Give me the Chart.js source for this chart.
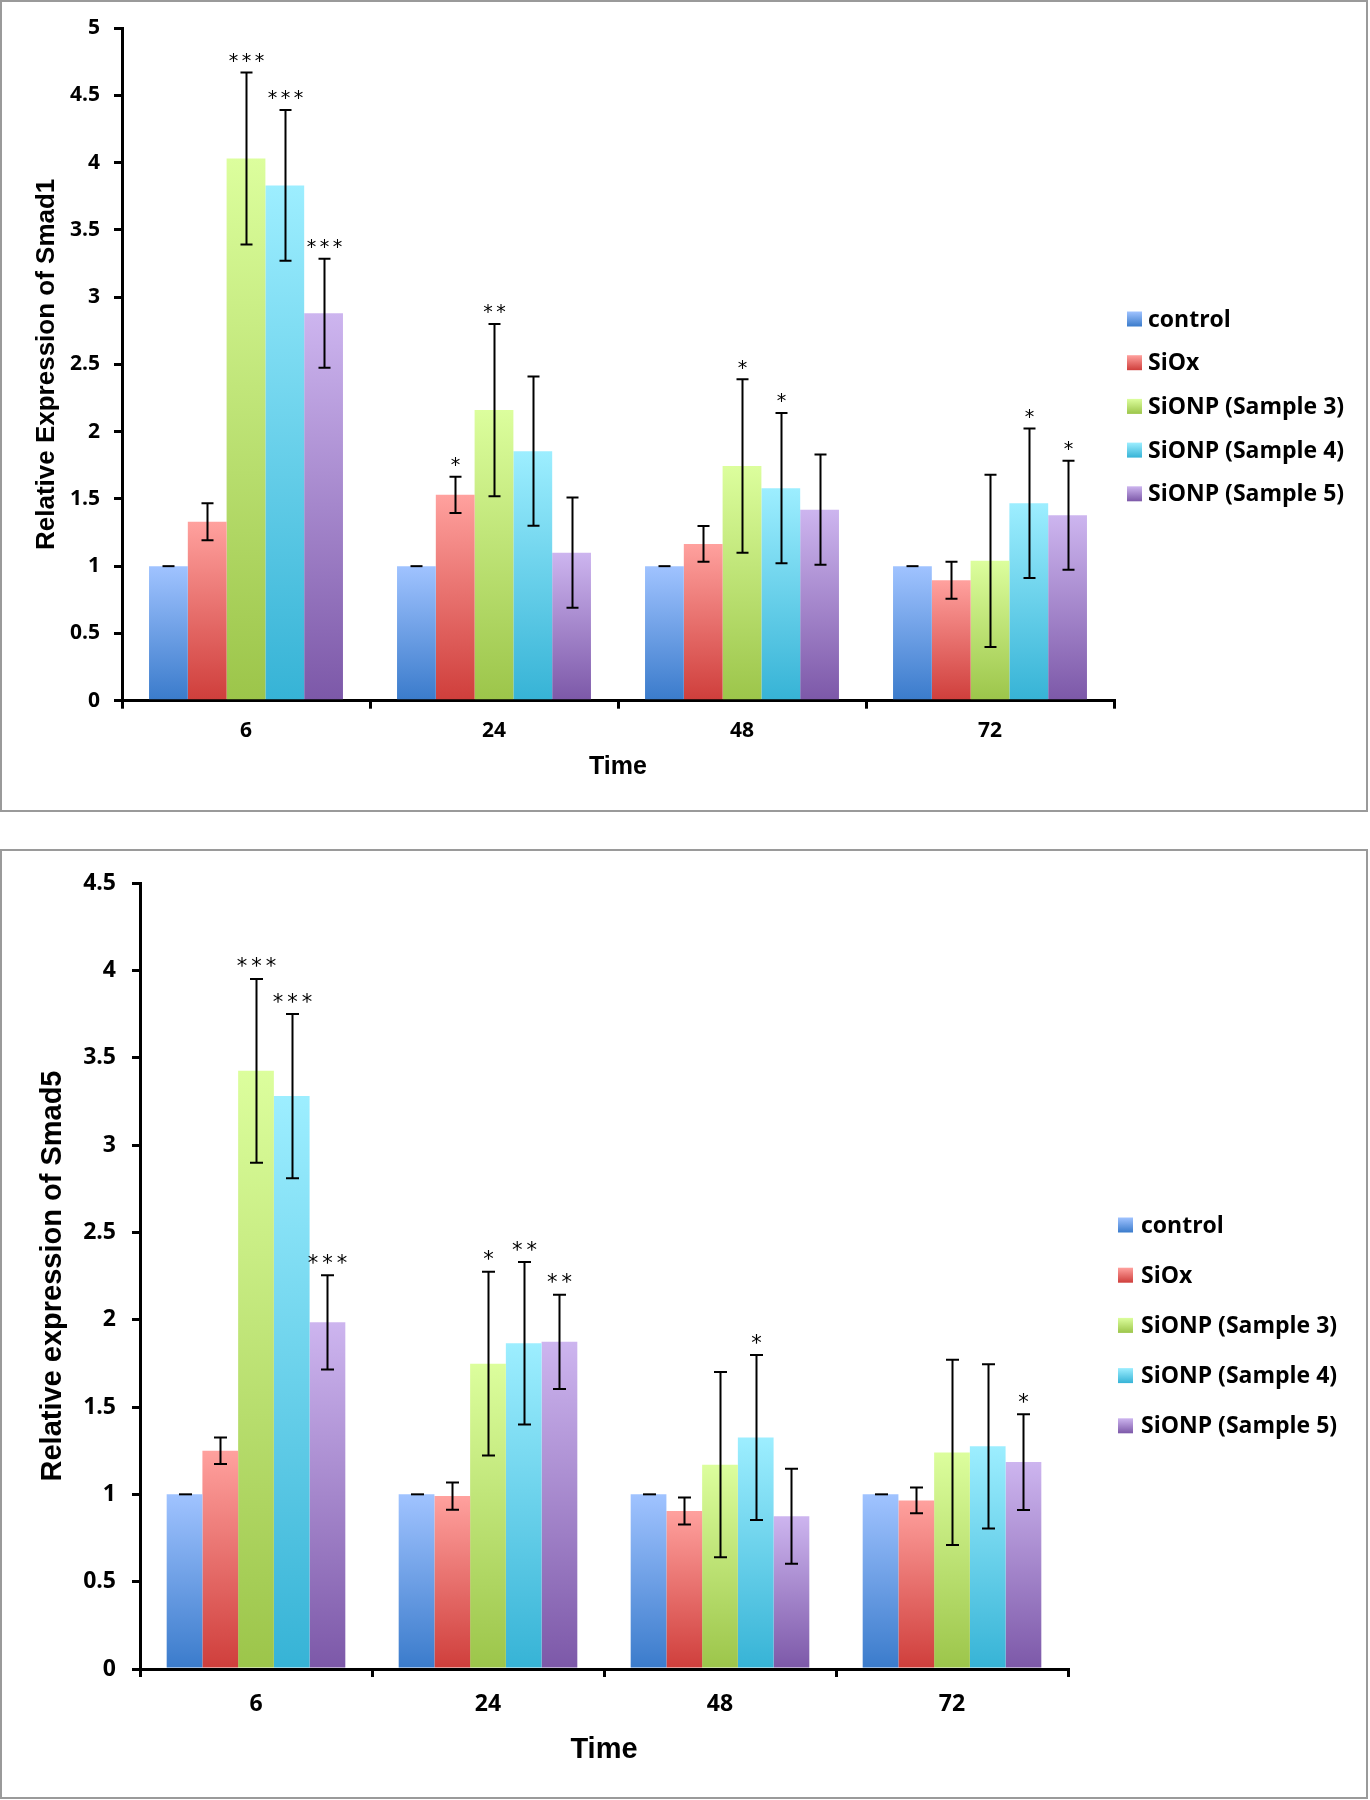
<!DOCTYPE html>
<html><head><meta charset="utf-8">
<script src="https://cdn.jsdelivr.net/npm/chart.js@4.4.1/dist/chart.umd.min.js"></script>
<style>
html,body{margin:0;padding:0;background:#fff;}
body{width:1370px;height:1800px;position:relative;overflow:hidden;}
.wrap{position:absolute;left:0;width:1370px;}
.frame{position:absolute;left:0;width:1368px;box-sizing:border-box;border:2px solid #9a9a9a;pointer-events:none;}
</style></head><body>
<div class="wrap" style="top:0;height:812px;"><canvas id="c1"></canvas></div>
<div class="frame" style="top:0;height:812px;"></div>
<div class="wrap" style="top:849px;height:950px;"><canvas id="c2"></canvas></div>
<div class="frame" style="top:849px;height:950px;"></div>
<script>
// ---------- data ----------
const timeCategories = ['6', '24', '48', '72'];
const seriesNames = ['control', 'SiOx', 'SiONP (Sample 3)', 'SiONP (Sample 4)', 'SiONP (Sample 5)'];

// Smad1 (top chart)
const smad1Control = [1.00, 1.00, 1.00, 1.00];
const smad1SiOx    = [1.33, 1.53, 1.165, 0.895];
const smad1S3      = [4.03, 2.16, 1.745, 1.04];
const smad1S4      = [3.83, 1.855, 1.58, 1.468];
const smad1S5      = [2.88, 1.10, 1.42, 1.378];
const smad1ErrControl = [0, 0, 0, 0];
const smad1ErrSiOx    = [0.137, 0.135, 0.133, 0.137];
const smad1ErrS3      = [0.64, 0.64, 0.645, 0.64];
const smad1ErrS4      = [0.56, 0.555, 0.558, 0.556];
const smad1ErrS5      = [0.405, 0.41, 0.41, 0.405];
const smad1StarsControl = ['', '', '', ''];
const smad1StarsSiOx    = ['', '*', '', ''];
const smad1StarsS3      = ['***', '**', '*', ''];
const smad1StarsS4      = ['***', '', '*', '*'];
const smad1StarsS5      = ['***', '', '', '*'];
const smad1TickValues = [0, 0.5, 1, 1.5, 2, 2.5, 3, 3.5, 4, 4.5, 5];
const smad1TickLabels = ['0', '0.5', '1', '1.5', '2', '2.5', '3', '3.5', '4', '4.5', '5'];

// Smad5 (bottom chart)
const smad5Control = [1.00, 1.00, 1.00, 1.00];
const smad5SiOx    = [1.25, 0.99, 0.905, 0.965];
const smad5S3      = [3.425, 1.748, 1.17, 1.24];
const smad5S4      = [3.28, 1.865, 1.325, 1.275];
const smad5S5      = [1.985, 1.873, 0.875, 1.185];
const smad5ErrControl = [0, 0, 0, 0];
const smad5ErrSiOx    = [0.076, 0.078, 0.077, 0.074];
const smad5ErrS3      = [0.526, 0.526, 0.53, 0.53];
const smad5ErrS4      = [0.47, 0.465, 0.472, 0.47];
const smad5ErrS5      = [0.27, 0.27, 0.272, 0.274];
const smad5StarsControl = ['', '', '', ''];
const smad5StarsSiOx    = ['', '', '', ''];
const smad5StarsS3      = ['***', '*', '', ''];
const smad5StarsS4      = ['***', '**', '*', ''];
const smad5StarsS5      = ['***', '**', '', '*'];
const smad5TickValues = [0, 0.5, 1, 1.5, 2, 2.5, 3, 3.5, 4, 4.5];
const smad5TickLabels = ['0', '0.5', '1', '1.5', '2', '2.5', '3', '3.5', '4', '4.5'];

// ---------- styles ----------
const lightColors = ['#A0C3FF', '#FFA19E', '#DCFE9D', '#9DEEFF', '#CDB5EF'];
const darkColors  = ['#3A7BCB', '#CF3E3B', '#9CC54A', '#36B3D6', '#7C58A8'];

function gradFill(i) {
  return (c) => {
    const chart = c.chart;
    if (!chart.chartArea || c.type !== 'data') return darkColors[i];
    const y = chart.scales.y;
    const top = y.getPixelForValue(c.raw);
    const base = y.getPixelForValue(0);
    if (!isFinite(top) || !isFinite(base) || top === base) return darkColors[i];
    const g = chart.ctx.createLinearGradient(0, top, 0, base);
    g.addColorStop(0, lightColors[i]);
    g.addColorStop(1, darkColors[i]);
    return g;
  };
}

const errorBarPlugin = {
  id: 'errorBars',
  afterDatasetsDraw(chart, args, o) {
    const ctx = chart.ctx, y = chart.scales.y;
    ctx.save();
    ctx.strokeStyle = '#000';
    ctx.lineWidth = o.lineWidth;
    chart.data.datasets.forEach((ds, i) => {
      const meta = chart.getDatasetMeta(i);
      meta.data.forEach((bar, j) => {
        const v = ds.data[j], e = ds.errors[j];
        const x = Math.round(bar.x) + 0.5;
        const yHi = y.getPixelForValue(v + e), yLo = y.getPixelForValue(v - e);
        ctx.beginPath();
        if (e > 0) { ctx.moveTo(x, yHi); ctx.lineTo(x, yLo); }
        ctx.moveTo(x - o.cap, yHi); ctx.lineTo(x + o.cap, yHi);
        if (e > 0) { ctx.moveTo(x - o.cap, yLo); ctx.lineTo(x + o.cap, yLo); }
        ctx.stroke();
        const s = ds.stars[j];
        if (s) {
          ctx.fillStyle = '#000';
          ctx.font = o.starSize + 'px "DejaVu Sans"';
          ctx.textAlign = 'center';
          ctx.textBaseline = 'alphabetic';
          const cy = yHi - o.starGap;
          const n = s.length;
          for (let k = 0; k < n; k++) {
            const sx = x + (k - (n - 1) / 2) * o.starSpacing;
            ctx.fillText('*', sx, cy + 0.6 * o.starSize);
          }
        }
      });
    });
    ctx.restore();
  }
};

const sideLegendPlugin = {
  id: 'sideLegend',
  afterDraw(chart, args, o) {
    const ctx = chart.ctx;
    ctx.save();
    chart.data.datasets.forEach((ds, i) => {
      const cy = o.y0 + i * o.dy;
      const top = cy - o.box / 2;
      const g = ctx.createLinearGradient(0, top, 0, top + o.box);
      g.addColorStop(0, lightColors[i]);
      g.addColorStop(1, darkColors[i]);
      ctx.fillStyle = g;
      ctx.fillRect(o.x, top, o.box, o.box);
      ctx.fillStyle = '#000';
      ctx.font = 'bold ' + o.fontSize + 'px "Open Sans"';
      ctx.textAlign = 'left';
      ctx.textBaseline = 'middle';
      ctx.fillText(ds.label, o.textX, cy + 1);
    });
    ctx.restore();
  }
};

function makeChart(id, p) {
  const datasets = p.values.map((vals, i) => ({
    label: seriesNames[i],
    data: vals,
    errors: p.errors[i],
    stars: p.stars[i],
    backgroundColor: gradFill(i),
    borderWidth: 0,
    categoryPercentage: p.catPct,
    barPercentage: 1.0
  }));
  return new Chart(document.getElementById(id), {
    type: 'bar',
    data: { labels: timeCategories, datasets },
    plugins: [errorBarPlugin, sideLegendPlugin],
    options: {
      responsive: true,
      maintainAspectRatio: false,
      animation: false,
      devicePixelRatio: 1,
      layout: { padding: { left: 0, top: p.padTop, right: p.padRight, bottom: 0 } },
      plugins: {
        legend: { display: false },
        tooltip: { enabled: false },
        errorBars: p.err,
        sideLegend: p.legend
      },
      scales: {
        x: {
          type: 'category',
          offset: true,
          grid: { display: true, drawOnChartArea: false, drawTicks: true, tickLength: 8, tickWidth: 3, tickColor: '#000', color: '#000', lineWidth: 3, offset: true },
          border: { display: true, color: '#000', width: 3 },
          ticks: { color: '#000', font: { family: 'Open Sans', weight: 'bold', size: p.tickSize }, padding: p.xTickPad, maxRotation: 0, autoSkip: false },
          title: { display: true, text: 'Time', color: '#000', font: { family: 'Liberation Sans', weight: 'bold', size: p.xTitleSize, lineHeight: 1 }, padding: { top: 0, bottom: p.xTitlePadBottom } },
          afterFit: (s) => { s.height = p.xHeight; }
        },
        y: {
          min: 0,
          max: p.tickValues[p.tickValues.length - 1],
          afterBuildTicks: (s) => { s.ticks = p.tickValues.map(v => ({ value: v })); },
          grid: { display: true, drawOnChartArea: false, drawTicks: true, tickLength: 8, tickWidth: 3, tickColor: '#000', color: '#000', lineWidth: 3 },
          border: { display: true, color: '#000', width: 3 },
          ticks: { color: '#000', font: { family: 'Open Sans', weight: 'bold', size: p.tickSize }, padding: p.yTickPad,
                   callback: (v, idx) => p.tickLabels[idx] },
          title: { display: true, text: p.yTitle, color: '#000', font: { family: 'Liberation Sans', weight: 'bold', size: p.yTitleSize, lineHeight: 1 }, padding: { top: p.yTitlePadTop, bottom: 0 } },
          afterFit: (s) => { s.width = p.yWidth; }
        }
      }
    }
  });
}

makeChart('c1', {
  values: [smad1Control, smad1SiOx, smad1S3, smad1S4, smad1S5],
  errors: [smad1ErrControl, smad1ErrSiOx, smad1ErrS3, smad1ErrS4, smad1ErrS5],
  stars: [smad1StarsControl, smad1StarsSiOx, smad1StarsS3, smad1StarsS4, smad1StarsS5],
  tickValues: smad1TickValues, tickLabels: smad1TickLabels,
  yTitle: 'Relative Expression of Smad1',
  catPct: 0.782, padTop: 28, padRight: 256, xHeight: 111.3, yWidth: 122,
  tickSize: 21, xTickPad: 10, yTickPad: 14,
  xTitleSize: 25, xTitlePadBottom: 32.5, yTitleSize: 26, yTitlePadTop: 34,
  err: { lineWidth: 2, cap: 6, starSize: 19, starGap: 17, starSpacing: 13 },
  legend: { x: 1127, y0: 319, dy: 43.7, box: 15, textX: 1148, fontSize: 23 }
});

makeChart('c2', {
  values: [smad5Control, smad5SiOx, smad5S3, smad5S4, smad5S5],
  errors: [smad5ErrControl, smad5ErrSiOx, smad5ErrS3, smad5ErrS4, smad5ErrS5],
  stars: [smad5StarsControl, smad5StarsSiOx, smad5StarsS3, smad5StarsS4, smad5StarsS5],
  tickValues: smad5TickValues, tickLabels: smad5TickLabels,
  yTitle: 'Relative expression of Smad5',
  catPct: 0.77, padTop: 34, padRight: 302, xHeight: 130, yWidth: 140,
  tickSize: 23, xTickPad: 14, yTickPad: 16,
  xTitleSize: 29, xTitlePadBottom: 34.5, yTitleSize: 29, yTitlePadTop: 38.5,
  err: { lineWidth: 2, cap: 6.5, starSize: 21, starGap: 18, starSpacing: 14.5 },
  legend: { x: 1118, y0: 376, dy: 50.2, box: 15, textX: 1141, fontSize: 23 }
});
</script>
</body></html>
